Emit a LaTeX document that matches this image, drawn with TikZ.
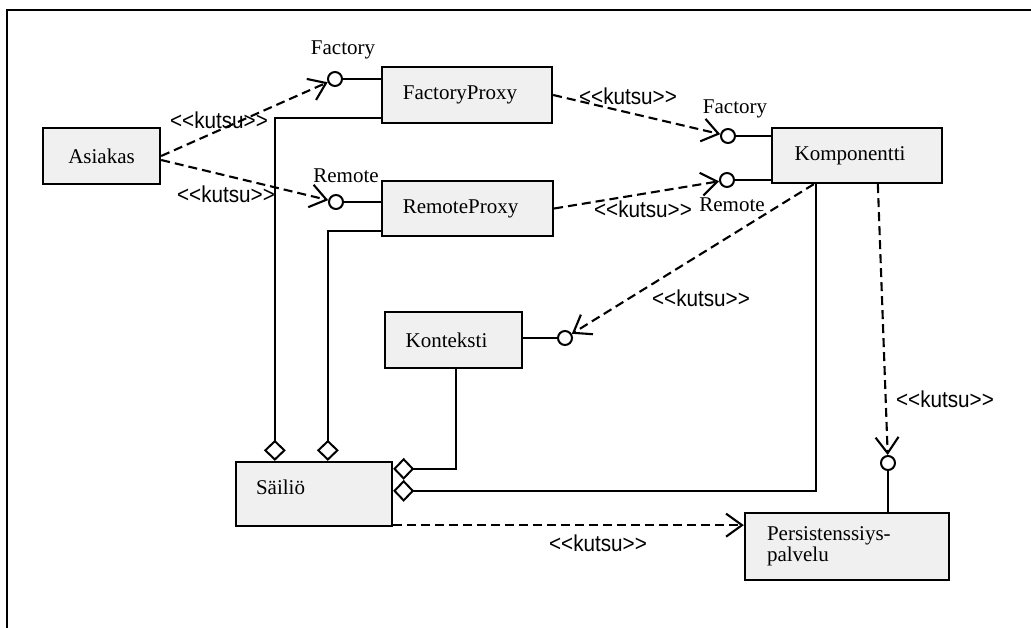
\documentclass[tikz,border=0pt]{standalone}
\usepackage{fontspec}
\setmainfont{Liberation Serif}
\newfontfamily\stereofont{Liberation Sans}
\usetikzlibrary{arrows.meta}
\newcommand{\kutsu}{\scalebox{0.9}[1]{<{}<kutsu>{}>}}
\begin{document}
\begin{tikzpicture}[x=1pt,y=-1pt,
  classbox/.style={draw, line width=2.3pt, fill=black!6, inner sep=0pt,
    font=\fontsize{21}{22}\selectfont},
  leftshift/.style={execute at begin node={\hspace*{-14pt}}},
  iface/.style={circle, draw, line width=2pt, fill=white, minimum size=14pt, inner sep=0pt},
  call/.style={line width=2.1pt, dash pattern=on 9pt off 5pt,
    -{Straight Barb[length=16pt,width=23pt]}},
  assoc/.style={line width=2pt},
  agg/.style={line width=2pt, -{Diamond[open,length=21pt,width=22pt]}},
  stereo/.style={font=\stereofont\fontsize{23}{24}\selectfont, inner sep=0pt},
  iname/.style={font=\fontsize{21}{22}\selectfont, inner sep=0pt}]

\useasboundingbox (0,0) rectangle (1031,628);

% frame
\draw[line width=2.6pt] (7,628) -- (7,10) -- (1031,10);

% classes
\node[classbox, minimum width=117pt, minimum height=56pt] (asi) at (101.5,156) {Asiakas};
\node[classbox, leftshift, minimum width=170pt, minimum height=56pt] (fp) at (467,95) {FactoryProxy};
\node[classbox, leftshift, minimum width=171pt, minimum height=55pt] (rp) at (467.5,208.5) {RemoteProxy};
\node[classbox, leftshift, minimum width=170pt, minimum height=55pt] (kom) at (857,155.5) {Komponentti};
\node[classbox, leftshift, minimum width=137pt, minimum height=56pt] (kon) at (453.5,340) {Konteksti};
\node[classbox, minimum width=156pt, minimum height=64pt] (sai) at (314,494) {};
\node[iname, anchor=west] (saitext) at ([xshift=21pt,yshift=7pt]sai.west) {Säiliö};
\node[classbox, minimum width=204pt, minimum height=67pt, text width=160pt,
      inner xsep=22pt, align=left, font=\fontsize{21}{21}\selectfont]
      (ps) at (847,546.5) {Persistenssiys-\\palvelu};

% provided interfaces
\node[iface] (fc)  at (335,79) {};
\node[iface] (rc)  at (336,202) {};
\node[iface] (kfc) at (728,136) {};
\node[iface] (krc) at (727,180) {};
\node[iface] (kc)  at (565,338) {};
\node[iface] (pc)  at (888,463) {};

\node[iname] (fcname)  at (343,50)  {Factory};
\node[iname] (rcname)  at (346,176) {Remote};
\node[iname] (kfcname) at (735,109) {Factory};
\node[iname] (krcname) at (732,205) {Remote};

% interface stems
\draw[assoc] (fc)  -- (fc -| fp.west);
\draw[assoc] (rc)  -- (rc -| rp.west);
\draw[assoc] (kfc) -- (kfc -| kom.west);
\draw[assoc] (krc) -- (krc -| kom.west);
\draw[assoc] (kc)  -- (kc -| kon.east);
\draw[assoc] (pc)  -- (pc |- ps.north);

% aggregations into the container
\draw[agg] ([yshift=6pt]fp.south west) -| ([xshift=40pt]sai.north west);
\draw[agg] ([yshift=6pt]rp.south west) -| ([xshift=93pt]sai.north west);
\draw[agg] ([xshift=2.5pt]kon.south) |- ([yshift=-8pt]sai.north east);
\draw[agg] ([xshift=45pt]kom.south west) |- ([yshift=-30pt]sai.north east);

% calls
\coordinate (sp) at ([yshift=2pt]sai.south east);
\draw[call] (asi.east) -- (fc);
\draw[call] ([yshift=-4pt]asi.east) -- (rc);
\draw[call] (fp.east) -- (kfc);
\draw[call] (rp.east) -- (krc);
\draw[call] ([xshift=43pt]kom.south west) -- (kc);
\draw[call] ([xshift=107pt]kom.south west) -- (pc);
\draw[call] (sp) -- (sp -| ps.west);

% stereotypes
\node[stereo] (k1) at (219,120) {\kutsu};
\node[stereo] (k2) at (226,194) {\kutsu};
\node[stereo] (k3) at (628,96)  {\kutsu};
\node[stereo] (k4) at (643,209) {\kutsu};
\node[stereo] (k5) at (701,298) {\kutsu};
\node[stereo] (k6) at (945,399) {\kutsu};
\node[stereo] (k7) at (598,543) {\kutsu};
\end{tikzpicture}
\end{document}
